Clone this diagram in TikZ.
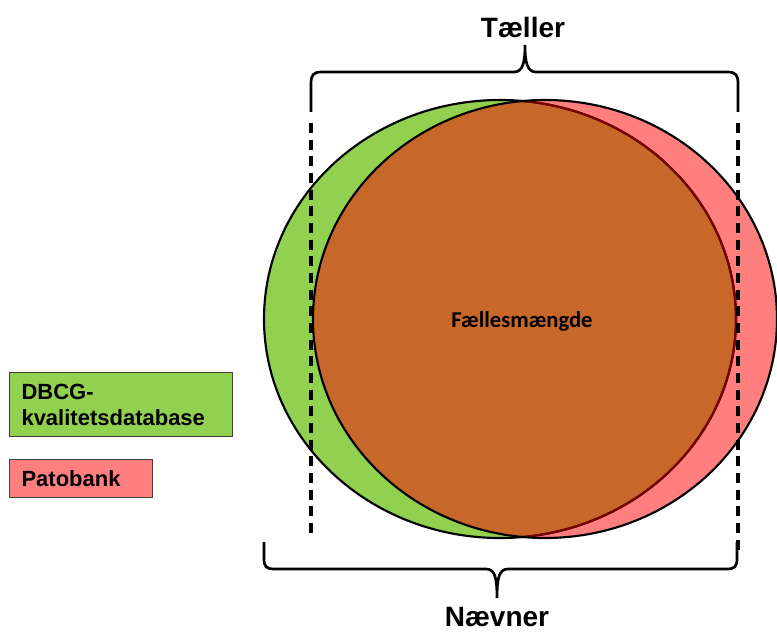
\documentclass[tikz,border=0pt]{standalone}
\usepackage{fontspec}
\setmainfont{Liberation Sans}
\newfontfamily\calibrifont{Carlito}
\definecolor{dbcggreen}{HTML}{92D050}
\definecolor{patored}{HTML}{FF7F7F}
\definecolor{overlaporange}{HTML}{C8672A}
\definecolor{edgered}{HTML}{7A0000}

\begin{document}
\begin{tikzpicture}[x=0.75pt, y=-0.75pt,
    set line/.style={line width=1.6pt, black},
    brace line/.style={line width=2pt, black},
    guide line/.style={line width=2.6pt, black, dash pattern=on 7.5pt off 5pt},
    legend box/.style={draw=black!75, line width=0.8pt, anchor=north west, align=left,
        inner xsep=9pt, font=\bfseries\fontsize{16.5}{19.5}\selectfont}]
    \useasboundingbox (0,0) rectangle (777,631);

    % the two sets
    \fill[dbcggreen] (500,319) ellipse [x radius=236, y radius=219];
    \fill[patored] (545,319) ellipse [x radius=232, y radius=219];
    \begin{scope}
        \clip (500,319) ellipse [x radius=236, y radius=219];
        \fill[overlaporange] (545,319) ellipse [x radius=232, y radius=219];
    \end{scope}
    \draw[set line] (500,319) ellipse [x radius=236, y radius=219];
    \begin{scope}
        \clip (545,319) ellipse [x radius=232, y radius=219];
        \draw[set line, edgered] (500,319) ellipse [x radius=236, y radius=219];
    \end{scope}
    \draw[set line] (545,319) ellipse [x radius=232, y radius=219];

    \node[font=\calibrifont\bfseries\fontsize{17}{20}\selectfont] (common) at (522,321) {Fællesmængde};

    % dashed guides
    \coordinate (guideLtop) at (311,123);
    \coordinate (guideLbot) at (311,533);
    \coordinate (guideRtop) at (738,123);
    \coordinate (guideRbot) at (738,551);
    \draw[guide line] (guideLtop) -- (guideLbot);
    \draw[guide line] (guideRtop) -- (guideRbot);

    % top brace
    \coordinate (topL) at (311,112);
    \coordinate (topR) at (738,112);
    \coordinate (topTip) at (525,45);
    \draw[brace line] (topL) -- (311,84) .. controls (311,75) and (313,72) .. (322,72)
        -- (514,72) .. controls (523,72) and (525,62) .. (topTip)
        .. controls (525,62) and (527,72) .. (536,72)
        -- (727,72) .. controls (736,72) and (738,75) .. (738,84) -- (topR);
    \node[font=\bfseries\fontsize{21}{24}\selectfont] (numer) at (523,27) {Tæller};

    % bottom brace
    \coordinate (botL) at (264,542);
    \coordinate (botR) at (737,542);
    \coordinate (botTip) at (497,598);
    \draw[brace line] (botL) -- (264,558) .. controls (264,567) and (266,569) .. (275,569)
        -- (486,569) .. controls (495,569) and (497,578) .. (botTip)
        .. controls (497,578) and (499,569) .. (508,569)
        -- (726,569) .. controls (735,569) and (737,567) .. (737,558) -- (botR);
    \node[font=\bfseries\fontsize{21}{24}\selectfont] (denom) at (497,617) {Nævner};

    % legend
    \node[legend box, fill=dbcggreen, text width=149pt, minimum height=48pt] (legDBCG) at (9,372) {DBCG-\\kvalitetsdatabase};
    \node[legend box, fill=patored, text width=89pt, minimum height=28.5pt] (legPato) at (9,459) {Patobank};
\end{tikzpicture}
\end{document}
